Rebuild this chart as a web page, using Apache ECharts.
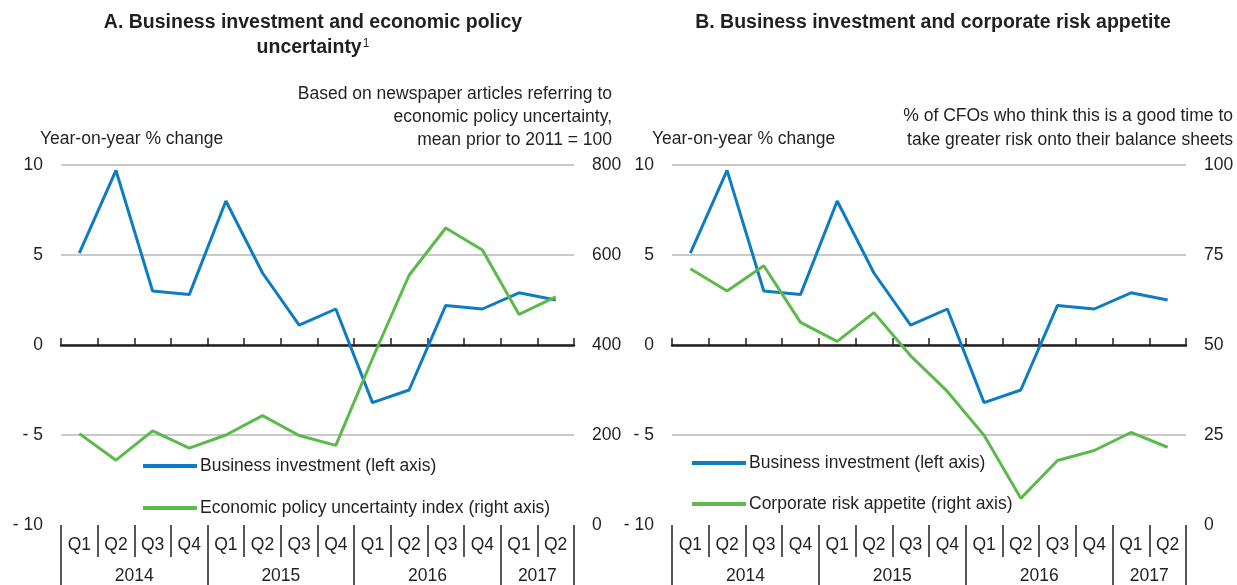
<!DOCTYPE html>
<html>
<head>
<meta charset="utf-8">
<script src="https://cdn.jsdelivr.net/npm/echarts@6/dist/echarts.min.js"></script>
<style>
html,body{margin:0;padding:0;background:#fff;}
#c{width:1237px;height:585px;}
</style>
</head>
<body>
<div id="c"></div>
<script>
// ---- data ----
var quarters = ['Q1','Q2','Q3','Q4','Q1','Q2','Q3','Q4','Q1','Q2','Q3','Q4','Q1','Q2'];
var yearLabels = ['2014','2015','2016','2017'];
var yearLabelPos = [2, 6, 10, 13];
var yearBounds = [0, 4, 8, 12, 14];
var businessInvestment = [5.1, 9.7, 3.0, 2.8, 8.0, 4.0, 1.1, 2.0, -3.2, -2.5, 2.2, 2.0, 2.9, 2.5];
var policyUncertainty = [203, 144, 209, 171, 200, 243, 199, 177, 370, 555, 660, 611, 468, 507];
var riskAppetite = [71.2, 65.0, 72.0, 56.3, 51.0, 59.0, 47.0, 37.1, 24.9, 7.4, 17.9, 20.7, 25.7, 21.6];
var leftTicks = [-10, 10, 5];       // min, max, interval
var rightTicksA = [0, 800, 200];
var rightTicksB = [0, 100, 25];
var nameBI = 'Business investment (left axis)';
var nameEPU = 'Economic policy uncertainty index (right axis)';
var nameCRA = 'Corporate risk appetite (right axis)';

// ---- styling ----
var FONT = "'Liberation Sans Narrow','Arial Narrow','Liberation Sans',sans-serif";
var TXT = '#231f20';
var BLUE = '#0e7cc1';
var GREEN = '#5cb94b';
var FS = 17.5;

function fmtNeg(v){ return v < 0 ? '- ' + Math.abs(v) : String(v); }

function xAxesFor(gi){
  return [
    { // quarters row
      type:'category', gridIndex:gi, data:quarters, position:'bottom', boundaryGap:true,
      axisLine:{show:false, onZero:false},
      axisTick:{show:true, interval:0, length:32, lineStyle:{color:TXT, width:1.5}},
      axisLabel:{interval:0, margin:11, fontFamily:FONT, fontSize:FS, color:TXT},
      splitLine:{show:false}
    },
    { // years row
      type:'value', gridIndex:gi, min:0, max:14, position:'bottom',
      axisLine:{show:false, onZero:false},
      axisTick:{show:true, customValues:yearBounds, length:60, lineStyle:{color:TXT, width:1.5}},
      axisLabel:{customValues:yearLabelPos, margin:42, fontFamily:FONT, fontSize:FS, color:TXT,
        formatter:function(v){ var i = yearLabelPos.indexOf(v); return i>=0 ? yearLabels[i] : ''; }},
      splitLine:{show:false}
    },
    { // zero line
      type:'category', gridIndex:gi, data:quarters, position:'bottom', boundaryGap:true,
      axisLine:{show:true, onZero:true, onZeroAxisIndex: gi*2, lineStyle:{color:TXT, width:2.5}},
      axisTick:{show:true, inside:true, interval:0, length:7, lineStyle:{color:TXT, width:1.5}},
      axisLabel:{show:false}, splitLine:{show:false}
    }
  ];
}

function yAxesFor(gi, rt){
  return [
    {
      type:'value', gridIndex:gi, position:'left', min:leftTicks[0], max:leftTicks[1], interval:leftTicks[2],
      axisLine:{show:false}, axisTick:{show:false},
      axisLabel:{margin:18, fontFamily:FONT, fontSize:FS, color:TXT, formatter:fmtNeg},
      splitLine:{show:true, showMinLine:false, lineStyle:{color:'#c9c9c9', width:2}}
    },
    {
      type:'value', gridIndex:gi, position:'right', min:rt[0], max:rt[1], interval:rt[2],
      axisLine:{show:false}, axisTick:{show:false},
      axisLabel:{margin:18, fontFamily:FONT, fontSize:FS, color:TXT},
      splitLine:{show:false}
    }
  ];
}

var chart = echarts.init(document.getElementById('c'), null, {renderer:'canvas'});
var option = {
  animation:false,
  backgroundColor:'#fff',
  textStyle:{fontFamily:FONT, color:TXT},
  grid:[
    {left:61, right:663, top:165, bottom:60, containLabel:false},
    {left:672, right:51, top:165, bottom:60, containLabel:false}
  ],
  xAxis: xAxesFor(0).concat(xAxesFor(1)),
  yAxis: yAxesFor(0, rightTicksA).concat(yAxesFor(1, rightTicksB)),
  legend:[
    {data:[nameBI, nameEPU], orient:'vertical', left:143, top:457, padding:0, itemWidth:54, itemHeight:4, icon:'rect', itemGap:24,
     textStyle:{fontFamily:FONT, fontSize:FS, color:TXT, padding:[0,0,0,-2]}, selectedMode:false},
    {data:[nameBI, nameCRA], orient:'vertical', left:692, top:454, padding:0, itemWidth:54, itemHeight:4, icon:'rect', itemGap:23,
     textStyle:{fontFamily:FONT, fontSize:FS, color:TXT, padding:[0,0,0,-2]}, selectedMode:false}
  ],
  series:[
    {name:nameBI, type:'line', xAxisIndex:0, yAxisIndex:0, data:businessInvestment, showSymbol:false, symbol:'none',
     lineStyle:{color:BLUE, width:3}, itemStyle:{color:BLUE}, z:3},
    {name:nameEPU, type:'line', xAxisIndex:0, yAxisIndex:1, data:policyUncertainty, showSymbol:false, symbol:'none',
     lineStyle:{color:GREEN, width:3}, itemStyle:{color:GREEN}, z:4},
    {name:nameBI, type:'line', xAxisIndex:3, yAxisIndex:2, data:businessInvestment, showSymbol:false, symbol:'none',
     lineStyle:{color:BLUE, width:3}, itemStyle:{color:BLUE}, z:3},
    {name:nameCRA, type:'line', xAxisIndex:3, yAxisIndex:3, data:riskAppetite, showSymbol:false, symbol:'none',
     lineStyle:{color:GREEN, width:3}, itemStyle:{color:GREEN}, z:4}
  ],
  graphic:[
    {type:'text', x:313, y:23, style:{text:'A. Business investment and economic policy', font:'bold 19.5px '+FONT, fill:TXT, align:'center', verticalAlign:'middle'}},
    {type:'text', x:313, y:48, style:{
      text:'{a|uncertainty}{s|1}', align:'center', verticalAlign:'middle', fill:TXT,
      rich:{a:{font:'bold 19.5px '+FONT, fill:TXT}, s:{font:'12px '+FONT, fill:TXT, verticalAlign:'top', padding:[0,0,8,1]}}}},
    {type:'text', x:933, y:23, style:{text:'B. Business investment and corporate risk appetite', font:'bold 19.5px '+FONT, fill:TXT, align:'center', verticalAlign:'middle'}},
    {type:'text', x:40, y:139, style:{text:'Year-on-year % change', font:FS+'px '+FONT, fill:TXT, align:'left', verticalAlign:'middle'}},
    {type:'text', x:612, y:117, style:{text:'Based on newspaper articles referring to\neconomic policy uncertainty,\nmean prior to 2011 = 100', font:FS+'px '+FONT, lineHeight:23, fill:TXT, align:'right', verticalAlign:'middle'}},
    {type:'text', x:652, y:139, style:{text:'Year-on-year % change', font:FS+'px '+FONT, fill:TXT, align:'left', verticalAlign:'middle'}},
    {type:'text', x:1233, y:128, style:{text:'% of CFOs who think this is a good time to\ntake greater risk onto their balance sheets', font:FS+'px '+FONT, lineHeight:24, fill:TXT, align:'right', verticalAlign:'middle'}}
  ]
};
chart.setOption(option);
</script>
</body>
</html>
